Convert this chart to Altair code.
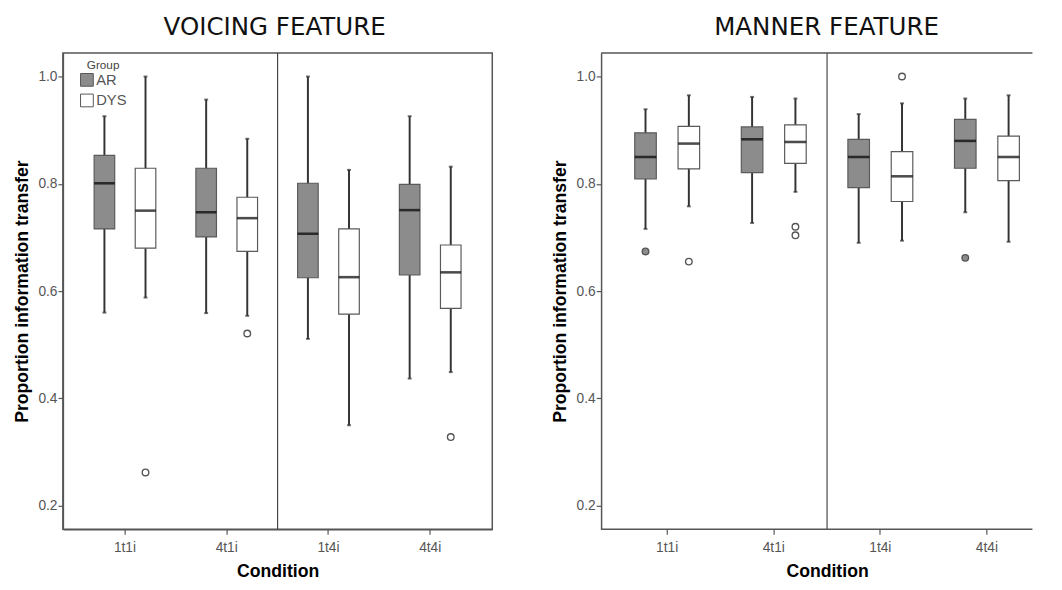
import altair as alt
import pandas as pd

conditions = ["1t1i", "4t1i", "1t4i", "4t4i"]
groups = ["AR", "DYS"]
group_colors = ["#8c8c8c", "#ffffff"]

# Box statistics, order: 1t1i AR, 1t1i DYS, 4t1i AR, 4t1i DYS, 1t4i AR, 1t4i DYS, 4t4i AR, 4t4i DYS
voicing_low = [0.560, 0.588, 0.559, 0.554, 0.511, 0.350, 0.437, 0.449]
voicing_q1 = [0.716, 0.680, 0.701, 0.674, 0.625, 0.557, 0.630, 0.568]
voicing_med = [0.801, 0.750, 0.747, 0.736, 0.707, 0.626, 0.751, 0.635]
voicing_q3 = [0.853, 0.829, 0.829, 0.775, 0.801, 0.716, 0.799, 0.686]
voicing_high = [0.926, 1.000, 0.957, 0.884, 1.000, 0.826, 0.926, 0.832]
voicing_out_cond = ["1t1i", "4t1i", "4t4i"]
voicing_out_group = ["DYS", "DYS", "DYS"]
voicing_out_val = [0.262, 0.521, 0.328]

manner_low = [0.716, 0.758, 0.727, 0.785, 0.690, 0.694, 0.747, 0.692]
manner_q1 = [0.809, 0.828, 0.821, 0.838, 0.793, 0.767, 0.829, 0.806]
manner_med = [0.850, 0.875, 0.883, 0.878, 0.850, 0.814, 0.880, 0.850]
manner_q3 = [0.895, 0.907, 0.906, 0.910, 0.883, 0.860, 0.920, 0.889]
manner_high = [0.939, 0.965, 0.962, 0.959, 0.930, 0.950, 0.959, 0.965]
manner_out_cond = ["1t1i", "1t1i", "4t1i", "4t1i", "1t4i", "4t4i"]
manner_out_group = ["AR", "DYS", "DYS", "DYS", "DYS", "AR"]
manner_out_val = [0.674, 0.655, 0.720, 0.704, 1.000, 0.662]

divider_at = ["1t4i"]

Y_TITLE = "Proportion information transfer"
X_TITLE = "Condition"
FONT = "Liberation Sans"
PLOT_H = 486


def panel(title, low, q1, med, q3, high, oc, og, ov, width, x_scale, off_scale,
          box_w, show_legend, full_frame, title_dx):
    box_df = pd.DataFrame({
        "Condition": [c for c in conditions for _ in groups],
        "Group": [g for _ in conditions for g in groups],
        "low": low, "q1": q1, "med": med, "q3": q3, "high": high,
    })
    out_df = pd.DataFrame({"Condition": oc, "Group": og, "val": ov})
    div_df = pd.DataFrame({"Condition": divider_at})

    yscale = alt.Scale(domain=[0.156, 1.044], nice=False, zero=False)
    yaxis = alt.Axis(values=[0.2, 0.4, 0.6, 0.8, 1.0], format=".1f")
    xaxis = alt.Axis(labelAngle=0, domain=full_frame)
    x = alt.X("Condition:N", scale=x_scale, axis=xaxis, title=X_TITLE, sort=conditions)
    xo = alt.XOffset("Group:N", scale=off_scale, sort=groups)
    fill_scale = alt.Scale(domain=groups, range=group_colors)

    def Y(field):
        return alt.Y(field, scale=yscale, axis=yaxis, title=Y_TITLE)

    whisker = alt.Chart(box_df).mark_rule(color="#333333", strokeWidth=2).encode(
        x=x, xOffset=xo, y=Y("low:Q"), y2="high:Q")
    cap_lo = alt.Chart(box_df).mark_tick(color="#333333", thickness=2, size=4).encode(
        x=x, xOffset=xo, y=Y("low:Q"))
    cap_hi = alt.Chart(box_df).mark_tick(color="#333333", thickness=2, size=4).encode(
        x=x, xOffset=xo, y=Y("high:Q"))
    if show_legend:
        legend = alt.Legend(
            title="Group", orient="none", legendX=17, legendY=7, padding=0,
            symbolType="square", symbolSize=169, symbolStrokeColor="#555555",
            symbolStrokeWidth=1, titleFont=FONT, titleFontSize=12,
            titleFontWeight="normal", titleColor="#444444", titleAnchor="middle",
            titlePadding=1, labelFont=FONT, labelFontSize=15, labelColor="#555555",
            labelOffset=2, rowPadding=4)
    else:
        legend = None
    box = alt.Chart(box_df).mark_bar(stroke="#5a5a5a", strokeWidth=1.2, width=box_w).encode(
        x=x, xOffset=xo, y=Y("q1:Q"), y2="q3:Q",
        fill=alt.Fill("Group:N", scale=fill_scale, legend=legend))
    median = alt.Chart(box_df).mark_tick(color="#000000", thickness=2.6, size=box_w).encode(
        x=x, xOffset=xo, y=Y("med:Q"))
    outliers = alt.Chart(out_df).mark_point(
        filled=True, stroke="#555555", strokeWidth=1.4, size=45, opacity=1).encode(
        x=x, xOffset=xo, y=Y("val:Q"),
        fill=alt.Fill("Group:N", scale=fill_scale, legend=None))
    divider = alt.Chart(div_df).mark_rule(color="#444444", strokeWidth=1.2).encode(
        x=alt.X("Condition:N", scale=x_scale, axis=xaxis, title=X_TITLE,
                sort=conditions, bandPosition=0))

    layers = [whisker, cap_lo, cap_hi, box, median, outliers, divider]
    if full_frame:
        view = alt.ViewBackground(stroke="#555555", strokeWidth=1.5)
    else:
        view = alt.ViewBackground(stroke="transparent")
        top = alt.Chart(div_df).mark_rule(color="#555555", strokeWidth=1.5).encode(
            y=alt.value(0), x=alt.value(0), x2=alt.value(width))
        bottom = alt.Chart(div_df).mark_rule(color="#555555", strokeWidth=1.5).encode(
            y=alt.value(PLOT_H), x=alt.value(0), x2=alt.value(width))
        layers += [top, bottom]

    return alt.layer(*layers).properties(
        width=width, height=PLOT_H, view=view,
        title=alt.TitleParams(title, font="DejaVu Sans", fontSize=25,
                              fontWeight="normal", color="#111111",
                              anchor="middle", frame="group", offset=13, dx=title_dx),
    )


left = panel(
    "VOICING FEATURE", voicing_low, voicing_q1, voicing_med, voicing_q3, voicing_high,
    voicing_out_cond, voicing_out_group, voicing_out_val, 438,
    alt.Scale(domain=conditions, paddingInner=0, paddingOuter=0.11),
    alt.Scale(domain=groups, paddingInner=0.5, paddingOuter=0.488),
    21, True, True, -3)

right = panel(
    "MANNER FEATURE", manner_low, manner_q1, manner_med, manner_q3, manner_high,
    manner_out_cond, manner_out_group, manner_out_val, 440,
    alt.Scale(domain=conditions, paddingInner=0, paddingOuter=0.12, range=[0, 461]),
    alt.Scale(domain=groups, paddingInner=0.49, paddingOuter=0.475),
    22, False, False, 10)

chart = alt.hconcat(left, right, spacing=59).resolve_scale(
    fill="independent", x="independent", xOffset="independent"
).properties(
    padding={"left": 4, "top": 0, "right": 0, "bottom": 0}
).configure_axis(
    grid=False,
    labelFont=FONT, labelFontSize=14, labelColor="#555555", labelPadding=1,
    tickColor="#555555", tickSize=5, tickWidth=1.2,
    domainColor="#555555", domainWidth=1.5,
    titleFont=FONT, titleFontSize=18, titleFontWeight="bold", titleColor="#000000",
).configure_axisY(
    titlePadding=7,
).configure_axisX(
    labelFontSize=14, labelPadding=7, titlePadding=8,
)

chart.save("out.html", embed_options={"renderer": "svg", "actions": False})
